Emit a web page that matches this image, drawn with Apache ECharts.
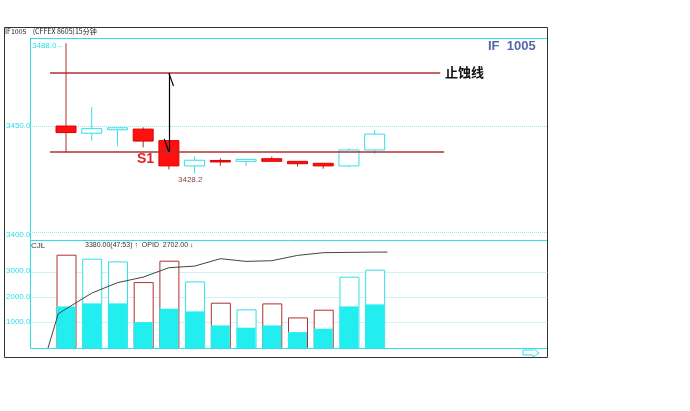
<!DOCTYPE html>
<html><head><meta charset="utf-8">
<script src="https://cdn.jsdelivr.net/npm/echarts@6/dist/echarts.min.js"></script>
<style>html,body{margin:0;padding:0;background:#fff}#c{width:690px;height:411px}</style>
</head><body><div id="c"></div>
<script>
// candles: [index, open, close, low, high]
var candles = [
  [0, 3450.0, 3447.0, 3438.0, 3488.0],
  [1, 3446.7, 3448.8, 3443.3, 3458.7],
  [2, 3448.3, 3449.2, 3440.8, 3449.2],
  [3, 3448.6, 3443.1, 3440.2, 3449.4],
  [4, 3443.3, 3431.7, 3430.1, 3443.3],
  [5, 3431.7, 3434.3, 3428.2, 3436.0],
  [6, 3434.2, 3434.0, 3431.7, 3435.2],
  [7, 3433.8, 3434.7, 3431.7, 3434.7],
  [8, 3435.0, 3433.8, 3433.8, 3436.0],
  [9, 3433.8, 3432.7, 3431.4, 3433.8],
  [10, 3432.9, 3431.7, 3430.4, 3432.9],
  [11, 3431.7, 3439.0, 3431.2, 3439.8],
  [12, 3439.0, 3446.3, 3437.2, 3448.2]
];
var volTotal = [3688, 3530, 3423, 2605, 3450, 2632, 1790, 1526, 1763, 1209, 1514, 2818, 3095];
var volInner = [1644, 1763, 1763, 1024, 1553, 1447, 893, 802, 893, 628, 763, 1644, 1723];
var opidX = [-0.7, -0.3, 1, 2, 3, 4, 5, 6, 7, 8, 9, 10, 11, 12, 12.5];
var opidY = [0, 1356, 2170, 2581, 2802, 3174, 3237, 3530, 3423, 3450, 3660, 3767, 3780, 3790, 3790];
var priceTicks = [3450, 3400];
var volTicks = [1000, 2000, 3000];
var stopLevels = [3474.3, 3438.1];

var RED = '#ff1010', DRED = '#b03030', CY = '#30e0e8', GRIDC = '#9fe6ea';
var chart = echarts.init(document.getElementById('c'));
var xmin = -1.4, xmax = 18.7;
function isDown(c){ return c[1] > c[2]; }
function seg(x1, y1, x2, y2, color, w, type) {
  return [{coord: [x1, y1], lineStyle: {color: color, width: w, type: type || 'solid'}}, {coord: [x2, y2]}];
}

chart.setOption({
  backgroundColor: '#fff',
  animation: false,
  grid: [
    {left: 30, top: 38, width: 517, height: 202},
    {left: 30, top: 241, width: 517, height: 107}
  ],
  xAxis: [
    {type: 'value', gridIndex: 0, min: xmin, max: xmax, show: false},
    {type: 'value', gridIndex: 1, min: xmin, max: xmax, show: false}
  ],
  yAxis: [
    {type: 'value', gridIndex: 0, min: 3397.7, max: 3490.4, axisLine: {show: true, onZero: false, lineStyle: {color: CY}}, axisLabel: {show: false}, axisTick: {show: false}, splitLine: {show: false}},
    {type: 'value', gridIndex: 1, min: 0, max: 4229, axisLine: {show: true, onZero: false, lineStyle: {color: CY}}, axisLabel: {show: false}, axisTick: {show: false}, splitLine: {show: false}}
  ],
  series: [
    {
      type: 'scatter', xAxisIndex: 0, yAxisIndex: 0, symbolSize: 0, silent: true, z: 1,
      data: candles.map(function (c) { return [c[0], c[4]]; }),
      markLine: {
        silent: true, symbol: 'none', label: {show: false}, z: 1,
        data: [
          seg(xmin, priceTicks[0], xmax, priceTicks[0], GRIDC, 1, 'dotted'),
          seg(xmin, priceTicks[1] + 1.3, xmax, priceTicks[1] + 1.3, GRIDC, 1, 'dotted')
        ]
      }
    },
    {
      type: 'custom', xAxisIndex: 0, yAxisIndex: 0, data: candles, z: 3,
      renderItem: function (params, api) {
        var i = api.value(0), o = api.value(1), c = api.value(2), l = api.value(3), h = api.value(4);
        var down = o > c;
        var top = api.coord([i, Math.max(o, c)]), bot = api.coord([i, Math.min(o, c)]);
        var hi = api.coord([i, h]), lo = api.coord([i, l]);
        var wick = down ? DRED : CY;
        var w = 20, bh = Math.max(bot[1] - top[1], 1.5);
        return {type: 'group', children: [
          {type: 'line', shape: {x1: hi[0], y1: hi[1], x2: hi[0], y2: top[1]}, style: {stroke: wick, lineWidth: 1}},
          {type: 'line', shape: {x1: lo[0], y1: bot[1], x2: lo[0], y2: lo[1]}, style: {stroke: wick, lineWidth: 1}},
          {type: 'rect', shape: {x: top[0] - w / 2, y: top[1], width: w, height: bh}, style: {fill: down ? RED : '#fff', stroke: down ? '#dd0000' : CY, lineWidth: 1}}
        ]};
      }
    },
    {
      type: 'scatter', xAxisIndex: 0, yAxisIndex: 0, symbolSize: 0, silent: true, z: 5,
      data: candles.map(function (c) { return [c[0], c[3]]; }),
      markLine: {
        silent: true, symbol: 'none', label: {show: false},
        data: [
          seg(-0.62, stopLevels[0], 14.55, stopLevels[0], DRED, 1.5),
          seg(-0.62, stopLevels[1], 14.7, stopLevels[1], DRED, 1.5),
          seg(4, stopLevels[0], 4, stopLevels[1], '#000', 1.2),
          seg(4, stopLevels[0], 4.18, stopLevels[0] - 6, '#000', 1.2),
          seg(4, stopLevels[1], 3.82, stopLevels[1] + 6, '#000', 1.2)
        ]
      }
    },
    {
      type: 'bar', xAxisIndex: 1, yAxisIndex: 1, barWidth: 20, z: 2,
      data: volTotal.map(function (v, i) { return {value: [i, v], itemStyle: {color: '#fff', borderColor: isDown(candles[i]) ? DRED : CY, borderWidth: 1}}; }),
      markLine: {
        silent: true, symbol: 'none', label: {show: false}, z: 1,
        data: volTicks.map(function (t) { return seg(xmin, t, xmax, t, GRIDC, 1, 'dotted'); })
      }
    },
    {
      type: 'bar', xAxisIndex: 1, yAxisIndex: 1, barWidth: 19, barGap: '-100%',
      data: volInner.map(function (v, i) { return [i, v]; }),
      itemStyle: {color: '#22eef0'}, z: 3
    },
    {
      type: 'line', xAxisIndex: 1, yAxisIndex: 1, symbol: 'none', z: 4,
      data: opidX.map(function (x, i) { return [x, opidY[i]]; }),
      lineStyle: {color: '#444', width: 1}
    }
  ],
  graphic: [
    {type: 'rect', shape: {x: 4.5, y: 27.5, width: 543, height: 330}, style: {fill: 'none', stroke: '#333', lineWidth: 1}, silent: true},
    {type: 'line', shape: {x1: 30, y1: 38.5, x2: 547, y2: 38.5}, style: {stroke: CY, lineWidth: 1}},
    {type: 'line', shape: {x1: 30, y1: 240.5, x2: 547, y2: 240.5}, style: {stroke: CY, lineWidth: 1}},
    {type: 'line', shape: {x1: 30, y1: 348.5, x2: 547, y2: 348.5}, style: {stroke: CY, lineWidth: 1}},
    {type: 'text', left: 5, top: 28, style: {text: 'IF1005    (CFFEX 8605)15分钟', fill: '#222', fontSize: 7, fontFamily: 'Noto Sans CJK SC'}},
    {type: 'text', left: 488, top: 40, style: {text: 'IF  1005', fill: '#5468a8', fontSize: 13, fontWeight: 'bold', fontFamily: 'Liberation Sans'}},
    {type: 'text', left: 445, top: 66, style: {text: '止蚀线', fill: '#111', fontSize: 13, fontWeight: 'bold', fontFamily: 'Noto Sans CJK SC'}},
    {type: 'text', left: 32, top: 42, style: {text: '3488.0←', fill: CY, fontSize: 8, fontFamily: 'Liberation Sans'}},
    {type: 'text', left: 6, top: 122, style: {text: '3450.0', fill: CY, fontSize: 8, fontFamily: 'Liberation Sans'}},
    {type: 'text', left: 6, top: 231, style: {text: '3400.0', fill: CY, fontSize: 8, fontFamily: 'Liberation Sans'}},
    {type: 'text', left: 6, top: 267, style: {text: '3000.0', fill: CY, fontSize: 8, fontFamily: 'Liberation Sans'}},
    {type: 'text', left: 6, top: 293, style: {text: '2000.0', fill: CY, fontSize: 8, fontFamily: 'Liberation Sans'}},
    {type: 'text', left: 6, top: 318, style: {text: '1000.0', fill: CY, fontSize: 8, fontFamily: 'Liberation Sans'}},
    {type: 'text', left: 137, top: 152, style: {text: 'S1', fill: '#dd2222', fontSize: 14, fontWeight: 'bold', fontFamily: 'Liberation Sans'}},
    {type: 'text', left: 178, top: 176, style: {text: '3428.2', fill: '#884444', fontSize: 8, fontFamily: 'Liberation Sans'}},
    {type: 'text', left: 31, top: 242, style: {text: 'CJL', fill: '#333', fontSize: 8, fontFamily: 'Liberation Sans'}},
    {type: 'text', left: 85, top: 242, style: {text: '3380.00(47:53) ↑  OPID  2702.00 ↓', fill: '#333', fontSize: 7, fontFamily: 'Liberation Sans'}},
    {type: 'polygon', shape: {points: [[523, 350], [533, 350], [533, 348], [539, 353], [533, 357], [533, 355], [523, 355]]}, style: {fill: 'none', stroke: CY, lineWidth: 1}}
  ]
});
</script></body></html>
